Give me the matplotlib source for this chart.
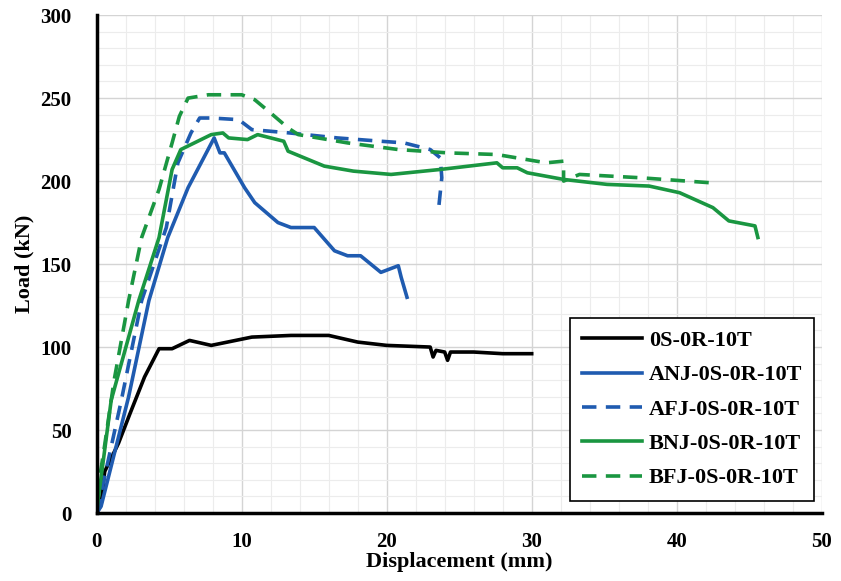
import matplotlib
matplotlib.use("Agg")
import matplotlib.pyplot as plt
from matplotlib.ticker import MultipleLocator

# 0S-0R-10T (black)
x_0s = [0.0, 0.3, 0.55, 1.5, 2.3, 3.3, 4.3, 5.2, 6.4, 7.9, 10.7, 13.4, 16.0, 18.0, 20.0, 23.0, 23.2, 23.4, 24.0, 24.2, 24.4, 26.0, 28.0, 30.0]
y_0s = [0, 5, 25, 42, 60, 82, 99, 99, 104, 101, 106, 107, 107, 103, 101, 100, 94, 98, 97, 92, 97, 97, 96, 96]

# ANJ-0S-0R-10T (blue solid)
x_anj = [0.0, 0.3, 2.2, 3.6, 4.9, 6.3, 7.2, 8.1, 8.5, 8.8, 10.2, 10.9, 12.5, 13.4, 14.1, 15.0, 16.4, 17.3, 18.2, 19.6, 20.8, 21.0, 21.4]
y_anj = [0, 4, 70, 128, 166, 196, 211, 226, 217, 217, 196, 187, 175, 172, 172, 172, 158, 155, 155, 145, 149, 142, 130]

# AFJ-0S-0R-10T (blue dashed)
x_afj = [0.0, 1.7, 3.1, 4.8, 5.6, 6.5, 7.1, 7.9, 9.8, 10.7, 13.3, 16.6, 19.6, 21.2, 23.0, 23.7, 23.8, 23.6]
y_afj = [0, 68, 128, 172, 211, 229, 238, 238, 237, 231, 229, 226, 224, 223, 219, 214, 202, 185]

# BNJ-0S-0R-10T (green solid)
x_bnj = [0.0, 0.1, 1.0, 2.9, 4.3, 5.2, 5.8, 6.5, 7.9, 8.7, 9.1, 10.4, 11.1, 12.9, 13.2, 15.7, 17.7, 20.3, 23.7, 27.6, 28.0, 29.0, 29.7, 32.2, 35.2, 38.1, 40.2, 42.5, 43.6, 45.4, 45.6]
y_bnj = [0, 8, 68, 128, 166, 207, 219, 222, 228, 229, 226, 225, 228, 224, 218, 209, 206, 204, 207, 211, 208, 208, 205, 201, 198, 197, 193, 184, 176, 173, 166]

# BFJ-0S-0R-10T (green dashed)
x_bfj = [0.0, 0.5, 1.2, 2.2, 3.1, 4.3, 5.2, 5.7, 6.3, 7.7, 10.0, 10.9, 12.0, 13.2, 13.9, 17.3, 20.8, 24.2, 27.6, 31.0, 32.2, 32.2, 33.3, 37.5, 42.3]
y_bfj = [10, 38, 80, 128, 166, 195, 223, 239, 250, 252, 252, 249, 241, 232, 228, 223, 219, 217, 216, 211, 212, 200, 204, 202, 199]

labels = ["0S-0R-10T", "ANJ-0S-0R-10T", "AFJ-0S-0R-10T", "BNJ-0S-0R-10T", "BFJ-0S-0R-10T"]

blue = "#1f5bb0"
green = "#1a9641"

fig = plt.figure(figsize=(8.41, 5.81), dpi=100)
ax = fig.add_axes([0.115, 0.117, 0.862, 0.857])

lw = 2.6
dash = (0, (4.0, 2.6))
ax.plot(x_0s, y_0s, color="black", lw=lw, label=labels[0])
ax.plot(x_anj, y_anj, color=blue, lw=lw, label=labels[1])
ax.plot(x_afj, y_afj, color=blue, lw=lw, ls=dash, label=labels[2])
ax.plot(x_bnj, y_bnj, color=green, lw=lw, label=labels[3])
ax.plot(x_bfj, y_bfj, color=green, lw=lw, ls=dash, label=labels[4])

ax.set_xlim(0, 50)
ax.set_ylim(0, 300)
ax.xaxis.set_major_locator(MultipleLocator(10))
ax.xaxis.set_minor_locator(MultipleLocator(2))
ax.yaxis.set_major_locator(MultipleLocator(50))
ax.yaxis.set_minor_locator(MultipleLocator(10))
ax.grid(which="major", color="#d4d4d4", lw=1.0)
ax.grid(which="minor", color="#ececec", lw=0.8)
ax.set_axisbelow(True)

for s in ["top", "right"]:
    ax.spines[s].set_visible(False)
for s in ["left", "bottom"]:
    ax.spines[s].set_linewidth(2.5)
    ax.spines[s].set_color("black")

serif = "Liberation Serif"
ax.tick_params(axis="x", which="both", length=0, pad=14)
ax.tick_params(axis="y", which="both", length=0, pad=18)
for t in ax.get_xticklabels() + ax.get_yticklabels():
    t.set_fontfamily(serif)
    t.set_fontweight("bold")
    t.set_fontsize(15)

ax.set_xlabel("Displacement (mm)", fontfamily=serif, fontweight="bold", fontsize=16, labelpad=0)
ax.set_ylabel("Load (kN)", fontfamily=serif, fontweight="bold", fontsize=16, labelpad=4)

leg = ax.legend(loc="lower right", bbox_to_anchor=(0.99, 0.025), frameon=True, fancybox=False,
                edgecolor="black", framealpha=1,
                prop={"family": serif, "weight": "bold", "size": 16},
                handlelength=2.7, handletextpad=0.3, labelspacing=0.62, borderpad=0.55,
                borderaxespad=0)
leg.get_frame().set_linewidth(1.2)

fig.savefig("out.png", dpi=100)
